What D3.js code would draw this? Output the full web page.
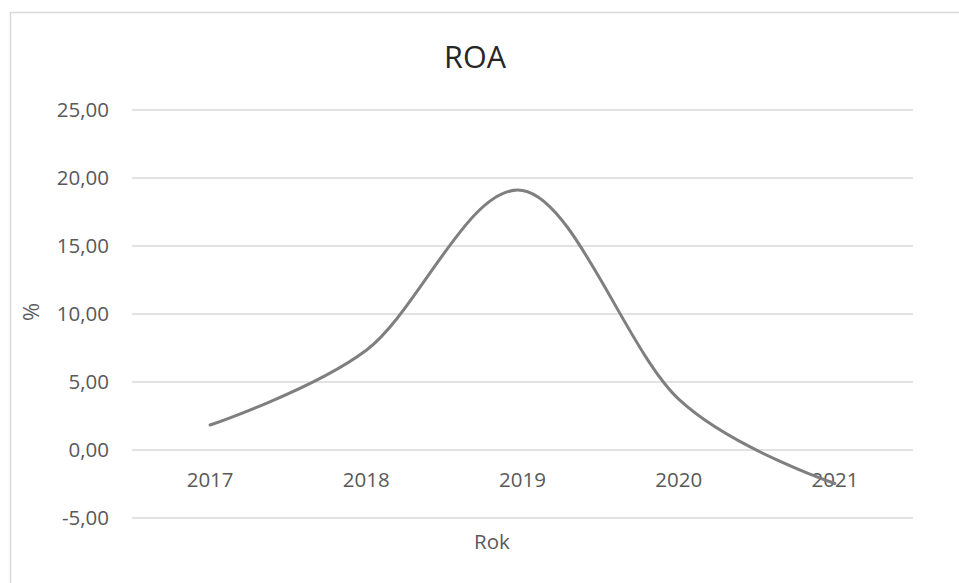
<!DOCTYPE html>
<html>
<head>
<meta charset="utf-8">
<script src="https://cdn.jsdelivr.net/npm/d3@7"></script>
<style>
  html, body { margin: 0; padding: 0; background: #fff; }
  svg { display: block; font-family: "Open Sans", sans-serif; }
</style>
</head>
<body>
<svg id="chart" width="959" height="583"></svg>
<script>
// ROA by year (%)
const years = ["2017", "2018", "2019", "2020", "2021"];
const roa = [1.8, 7.3, 19.05, 3.7, -2.5];
const yTicks = [-5, 0, 5, 10, 15, 20, 25];

const svg = d3.select("#chart");
const W = 959, H = 583;
const plot = { left: 132, right: 913, top: 109.5, bottom: 517.5 };

// Outer chart frame (left and top edges visible)
svg.append("rect")
  .attr("x", 10.5).attr("y", 12.5)
  .attr("width", W + 20).attr("height", H + 20)
  .attr("fill", "#fff")
  .attr("stroke", "#d9d9d9")
  .attr("stroke-width", 1.5);

const x = d3.scaleBand().domain(years).range([plot.left, plot.right]);
const y = d3.scaleLinear().domain([-5, 25]).range([plot.bottom, plot.top]);

// Two decimals, comma separator, plain hyphen for negatives
const fmt = v => d3.format(".2f")(v).replace(".", ",").replace("\u2212", "-");

// Horizontal gridlines with value labels
const yAxis = d3.axisLeft(y)
  .tickValues(yTicks)
  .tickSize(-(plot.right - plot.left))
  .tickPadding(23)
  .tickFormat(fmt);

const gy = svg.append("g")
  .attr("transform", `translate(${plot.left},0)`)
  .call(yAxis);
gy.select(".domain").remove();
gy.selectAll(".tick line").attr("stroke", "#d9d9d9").attr("stroke-width", 1.5);
gy.selectAll(".tick text")
  .attr("fill", "#595959")
  .attr("font-size", 20.5)
  .attr("font-family", "Open Sans, sans-serif");

// Category labels sit just below the zero line
const xAxis = d3.axisBottom(x).tickSize(0).tickPadding(0);
const gx = svg.append("g")
  .attr("transform", `translate(0,${y(0) + 23})`)
  .call(xAxis);
gx.select(".domain").remove();
gx.selectAll(".tick text")
  .attr("fill", "#595959")
  .attr("font-size", 20.5)
  .attr("font-family", "Open Sans, sans-serif");

// Smoothed ROA line
const line = d3.line()
  .x((d, i) => x(years[i]) + x.bandwidth() / 2)
  .y(d => y(d))
  .curve(d3.curveCardinal.tension(0));

svg.append("path")
  .datum(roa)
  .attr("d", line)
  .attr("fill", "none")
  .attr("stroke", "#7f7f7f")
  .attr("stroke-width", 3)
  .attr("stroke-linecap", "round");

// Title
svg.append("text")
  .attr("x", 475).attr("y", 68)
  .attr("text-anchor", "middle")
  .attr("font-size", 30.5)
  .attr("fill", "#262626")
  .text("ROA");

// Axis titles
svg.append("text")
  .attr("transform", "translate(39,312) rotate(-90)")
  .attr("text-anchor", "middle")
  .attr("font-size", 22)
  .attr("fill", "#595959")
  .text("%");

svg.append("text")
  .attr("x", 492).attr("y", 549)
  .attr("text-anchor", "middle")
  .attr("font-size", 20.5)
  .attr("fill", "#595959")
  .text("Rok");
</script>
</body>
</html>
